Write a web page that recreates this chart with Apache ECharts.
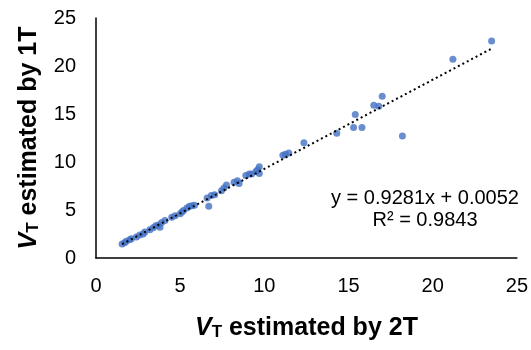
<!DOCTYPE html>
<html>
<head>
<meta charset="utf-8">
<script src="https://cdn.jsdelivr.net/npm/echarts@6/dist/echarts.min.js"></script>
<style>
  html, body { margin: 0; padding: 0; background: #fff; }
  #chart { width: 531px; height: 350px; }
</style>
</head>
<body>
<div id="chart"></div>
<script>
// VT estimated by 2T (x) vs 1T (y)
const vt2T = [
  1.55, 1.7, 1.8, 2.0, 2.1, 2.4, 2.6, 2.8, 2.9, 3.2,
  3.4, 3.55, 3.7, 3.8, 3.9, 4.1, 4.5, 4.7, 5.0, 5.1,
  5.2, 5.4, 5.55, 5.7, 5.85, 6.6, 6.7, 6.85, 7.05, 7.45,
  7.6, 7.75, 8.2, 8.4, 8.5, 8.9, 9.1, 9.25, 9.5, 9.6,
  9.7, 9.7, 11.1, 11.25, 11.45, 12.35, 14.3, 15.3, 15.4, 15.8,
  16.5, 16.8, 17.0, 18.2, 21.2, 23.5
];
const vt1T = [
  1.45, 1.6, 1.75, 1.9, 2.0, 2.2, 2.4, 2.5, 2.7, 2.95,
  3.15, 3.35, 3.45, 3.2, 3.7, 3.9, 4.25, 4.4, 4.6, 4.8,
  4.95, 5.2, 5.4, 5.45, 5.5, 6.25, 5.4, 6.5, 6.6, 7.0,
  7.3, 7.6, 7.9, 8.05, 7.75, 8.6, 8.75, 8.75, 9.0, 9.2,
  9.5, 8.8, 10.7, 10.8, 10.95, 12.0, 13.0, 13.6, 14.95, 13.6,
  15.9, 15.8, 16.85, 12.7, 20.7, 22.6
];
const slope = 0.9281;
const intercept = 0.0052;
const eqLabel = 'y = 0.9281x + 0.0052';
const r2Label = 'R² = 0.9843';
const axisTicks = [0, 5, 10, 15, 20, 25];

const points = vt2T.map((x, i) => [x, vt1T[i]]);
const xMin = Math.min(...vt2T);
const xMax = Math.max(...vt2T);
const trend = [[xMin, slope * xMin + intercept], [xMax, slope * xMax + intercept]];

const font = 'Liberation Sans, Arial, sans-serif';
const titleRich = {
  v: { fontSize: 25, fontWeight: 'bold', fontStyle: 'italic', fontFamily: font, color: '#000', lineHeight: 30, verticalAlign: 'bottom' },
  s: { fontSize: 17, fontWeight: 'bold', fontFamily: font, color: '#000', lineHeight: 30, verticalAlign: 'bottom' },
  n: { fontSize: 25, fontWeight: 'bold', fontFamily: font, color: '#000', lineHeight: 30, verticalAlign: 'bottom' }
};

const chart = echarts.init(document.getElementById('chart'));
chart.setOption({
  animation: false,
  backgroundColor: '#fff',
  grid: { left: 96, right: 13, top: 18, bottom: 92 },
  xAxis: {
    type: 'value',
    min: axisTicks[0],
    max: axisTicks[axisTicks.length - 1],
    interval: 5,
    name: '{v|V}{s|T}{n| estimated by 2T}',
    nameLocation: 'middle',
    nameGap: 53,
    nameTextStyle: { rich: titleRich },
    axisLine: { onZero: false, lineStyle: { color: '#000', width: 1.5 } },
    axisTick: { show: false },
    splitLine: { show: false },
    axisLabel: { color: '#000', fontSize: 20, fontFamily: font, margin: 18 }
  },
  yAxis: {
    type: 'value',
    min: axisTicks[0],
    max: axisTicks[axisTicks.length - 1],
    interval: 5,
    name: '{v|V}{s|T}{n| estimated by 1T}',
    nameLocation: 'middle',
    nameGap: 54,
    nameTextStyle: { rich: titleRich },
    axisLine: { show: true, onZero: false, lineStyle: { color: '#000', width: 1.5 } },
    axisTick: { show: false },
    splitLine: { show: false },
    axisLabel: { color: '#000', fontSize: 20, fontFamily: font, margin: 20 }
  },
  graphic: [
    {
      type: 'text',
      x: 425, y: 198,
      style: { text: eqLabel, fill: '#000', font: '20px ' + font, align: 'center', verticalAlign: 'middle' }
    },
    {
      type: 'text',
      x: 425, y: 220,
      style: { text: r2Label, fill: '#000', font: '20px ' + font, align: 'center', verticalAlign: 'middle' }
    }
  ],
  series: [
    {
      type: 'scatter',
      data: points,
      symbolSize: 7,
      itemStyle: { color: '#4472C4' },
      z: 2
    },
    {
      type: 'line',
      data: trend,
      showSymbol: false,
      lineStyle: { color: '#000', width: 2, type: [2, 3] },
      z: 3
    }
  ]
});
</script>
</body>
</html>
